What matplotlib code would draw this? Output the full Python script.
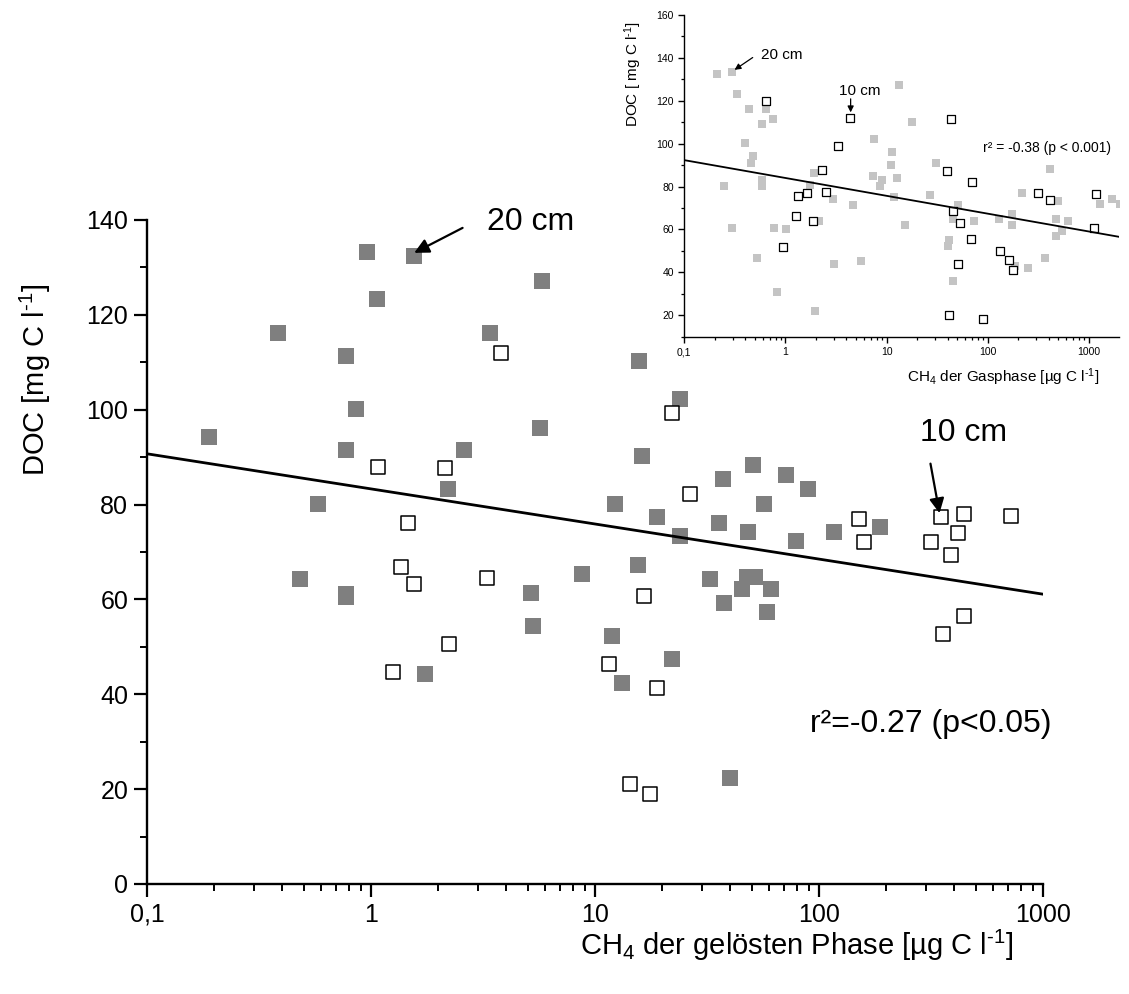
import matplotlib
matplotlib.use("Agg")
import numpy as np
import matplotlib.pyplot as plt
from matplotlib.ticker import FixedLocator, FixedFormatter, LogLocator, MultipleLocator, NullFormatter

plt.rcParams['font.family'] = ['Liberation Sans', 'DejaVu Sans']
plt.rcParams['mathtext.fontset'] = 'custom'
plt.rcParams['mathtext.rm'] = 'Liberation Sans'
plt.rcParams['mathtext.it'] = 'Liberation Sans:italic'
plt.rcParams['mathtext.bf'] = 'Liberation Sans:bold'

# --- main plot: dissolved phase -------------------------------------------
# 20 cm depth (filled grey squares)
sol20_x = [0.96, 1.55, 1.06, 0.385, 0.77, 0.86, 0.19, 0.77, 0.58, 5.8,
           3.4, 15.8, 24, 5.7, 2.6, 16.2, 2.2, 37.4, 12.3, 19,
           35.6, 24, 51, 71.5, 89.6, 56.8, 48.3, 78.7, 116.7, 188,
           15.5, 8.75, 32.6, 47.6, 51.6, 45.5, 61, 37.7, 58.8, 11.9,
           22, 13.2, 40.2, 5.2, 5.3, 0.48, 0.77, 0.77, 1.74]
sol20_y = [133.2, 132.3, 123.3, 116.2, 111.3, 100.2, 94.3, 91.4, 80.2, 127.2,
           116.2, 110.3, 102.3, 96.2, 91.4, 90.2, 83.3, 85.3, 80.2, 77.3,
           76.2, 73.4, 88.3, 86.2, 83.3, 80.2, 74.2, 72.4, 74.3, 75.3,
           67.3, 65.3, 64.3, 64.8, 64.8, 62.2, 62.2, 59.3, 57.3, 52.3,
           47.4, 42.3, 22.4, 61.3, 54.3, 64.3, 61.1, 60.4, 44.3]
# 10 cm depth (open squares)
sol10_x = [1.07, 2.15, 1.46, 3.8, 22, 26.6, 151, 159, 350, 443,
           717, 419, 316, 388, 16.6, 11.5, 18.9, 444, 357, 14.3,
           17.6, 3.3, 2.24, 1.36, 1.56, 1.26]
sol10_y = [88.0, 87.8, 76.2, 111.9, 99.4, 82.3, 76.9, 72.0, 77.4, 78.0,
           77.6, 74.1, 72.2, 69.4, 60.7, 46.3, 41.4, 56.4, 52.6, 21.0,
           19.0, 64.6, 50.6, 66.9, 63.3, 44.6]
sol_fit = (83.3, -7.4)   # DOC at 1 µg C/l, change per decade

# --- inset: gas phase ------------------------------------------------------
gas20_x = [0.209, 0.298, 0.329, 0.436, 0.637, 0.581, 0.747, 0.398, 0.481, 0.456,
           0.248, 0.588, 0.588, 0.298, 0.776, 1.004, 0.527, 0.83, 1.957, 1.912,
           1.746, 2.143, 2.97, 3.02, 4.61, 5.58, 7.55, 7.27, 9.06, 8.59,
           13.2, 11.4, 10.95, 12.8, 11.8, 17.7, 15.2, 26.8, 30.5, 50.4,
           45.6, 41.6, 40.7, 45.6, 73.6, 128.9, 172, 173, 216, 251,
           367, 412, 497, 472, 476, 545, 625, 1285, 1701, 2025, 185.6]
gas20_y = [132.5, 133.4, 123.1, 116.3, 116.3, 109.1, 111.3, 100.1, 94.2, 91.1,
           80.2, 83.0, 80.2, 60.9, 60.9, 60.0, 46.9, 30.9, 21.9, 86.1,
           80.7, 64.0, 74.1, 44.1, 71.2, 45.2, 102.3, 85.0, 83.0, 80.2,
           127.2, 96.2, 90.0, 84.2, 75.2, 110.2, 62.0, 76.2, 91.1, 71.2,
           65.1, 55.0, 52.4, 36.0, 64.0, 65.1, 67.1, 62.0, 77.1, 42.1,
           46.9, 88.1, 73.2, 65.1, 57.0, 59.4, 63.9, 72.1, 74.1, 71.8, 42.9]
gas10_x = [0.641, 4.34, 3.28, 2.296, 1.319, 1.619, 2.514, 1.27, 1.884, 0.952,
           42.9, 39.5, 69.7, 45.3, 53.1, 68.2, 51.1, 41.3, 90.3, 131.9,
           163, 176, 315.6, 412, 1129, 1164]
gas10_y = [120.0, 111.9, 98.9, 87.5, 75.7, 76.8, 77.4, 66.4, 64.0, 51.9,
           111.5, 87.4, 81.9, 68.5, 62.8, 55.6, 43.8, 20.2, 18.3, 50.0,
           45.7, 41.0, 77.1, 73.7, 60.9, 76.3]
gas_fit = (84.0, -8.32)

xticks = [0.1, 1, 10, 100, 1000]
xtick_labels = ['0,1', '1', '10', '100', '1000']

unit = r'C l$^{\text{-}1}$]'

fig = plt.figure(figsize=(11.29, 9.94), dpi=100)

# ---------------- main axes ----------------
ax = fig.add_axes([0.1302, 0.1107, 0.7936, 0.668])
ax.set_xscale('log')
ax.set_xlim(0.1, 1000)
ax.set_ylim(0, 140)

ax.scatter(sol20_x, sol20_y, marker='s', s=118, color='#7f7f7f', linewidths=0, zorder=2)
ax.scatter(sol10_x, sol10_y, marker='s', s=100, facecolor='white', edgecolor='black',
           linewidths=1.1, zorder=3)
xf = np.logspace(-1, 3, 50)
ax.plot(xf, sol_fit[0] + sol_fit[1] * np.log10(xf), color='black', lw=2.0, zorder=4)

for s in ['top', 'right']:
    ax.spines[s].set_visible(False)
for s in ['left', 'bottom']:
    ax.spines[s].set_linewidth(1.7)
ax.xaxis.set_major_locator(FixedLocator(xticks))
ax.xaxis.set_major_formatter(FixedFormatter(xtick_labels))
ax.xaxis.set_minor_locator(LogLocator(base=10, subs=np.arange(2, 10)))
ax.xaxis.set_minor_formatter(NullFormatter())
ax.yaxis.set_major_locator(MultipleLocator(20))
ax.yaxis.set_minor_locator(MultipleLocator(10))
ax.tick_params(which='major', direction='out', length=9.5, width=1.6, labelsize=18, pad=4)
ax.tick_params(which='minor', direction='out', length=5, width=1.4)

ax.text(0.725, -0.093, r'CH$_4$ der gelösten Phase [µg ' + unit, transform=ax.transAxes,
        ha='center', va='center', fontsize=21)
ax.text(-0.125, 0.759, r'DOC [mg ' + unit, transform=ax.transAxes, rotation=90,
        ha='center', va='center', fontsize=21)

ax.annotate('', xy=(1.52, 132.8), xytext=(2.63, 138.6),
            arrowprops=dict(arrowstyle='-|>', color='black', lw=1.6, mutation_scale=22),
            annotation_clip=False)
ax.text(5.18, 139.6, '20 cm', fontsize=23, ha='center', va='center')
ax.annotate('', xy=(347, 77.6), xytext=(313, 89.2),
            arrowprops=dict(arrowstyle='-|>', color='black', lw=1.6, mutation_scale=22))
ax.text(444, 95.1, '10 cm', fontsize=23, ha='center', va='center')
ax.text(91, 33.8, 'r²=-0.27 (p<0.05)', fontsize=23, ha='left', va='center')

# ---------------- inset axes ----------------
ins = fig.add_axes([0.6061, 0.6613, 0.3848, 0.3236])
ins.set_xscale('log')
ins.set_xlim(0.1, 1970)
ins.set_ylim(10, 160)

ins.scatter(gas20_x, gas20_y, marker='s', s=30, color='#c4c4c4', linewidths=0, zorder=2)
ins.scatter(gas10_x, gas10_y, marker='s', s=30, facecolor='white', edgecolor='black',
            linewidths=0.9, zorder=3)
xg = np.logspace(-1, np.log10(1970), 50)
ins.plot(xg, gas_fit[0] + gas_fit[1] * np.log10(xg), color='black', lw=1.3, zorder=4)

for s in ['top', 'right']:
    ins.spines[s].set_visible(False)
for s in ['left', 'bottom']:
    ins.spines[s].set_linewidth(1.0)
ins.xaxis.set_major_locator(FixedLocator(xticks))
ins.xaxis.set_major_formatter(FixedFormatter(xtick_labels))
ins.xaxis.set_minor_locator(LogLocator(base=10, subs=np.arange(2, 10)))
ins.xaxis.set_minor_formatter(NullFormatter())
ins.yaxis.set_major_locator(MultipleLocator(20))
ins.yaxis.set_minor_locator(MultipleLocator(10))
ins.tick_params(which='major', direction='out', length=4.5, width=1.0, labelsize=7.5, pad=3)
ins.tick_params(which='minor', direction='out', length=2.5, width=0.9)

ins.text(0.734, -0.125, r'CH$_4$ der Gasphase [µg ' + unit, transform=ins.transAxes,
         ha='center', va='center', fontsize=11)
ins.text(-0.118, 0.817, r'DOC [ mg ' + unit, transform=ins.transAxes, rotation=90,
         ha='center', va='center', fontsize=11)

ins.annotate('', xy=(0.298, 133.7), xytext=(0.5, 140.9),
             arrowprops=dict(arrowstyle='-|>', color='black', lw=0.9, mutation_scale=9))
ins.text(0.924, 141.3, '20 cm', fontsize=11, ha='center', va='center')
ins.annotate('', xy=(4.41, 113.3), xytext=(4.41, 122.2),
             arrowprops=dict(arrowstyle='-|>', color='black', lw=0.9, mutation_scale=9))
ins.text(5.45, 124.5, '10 cm', fontsize=11, ha='center', va='center')
ins.text(89.6, 97.9, 'r² = -0.38 (p < 0.001)', fontsize=10, ha='left', va='center')

fig.savefig('out.png', dpi=100)
